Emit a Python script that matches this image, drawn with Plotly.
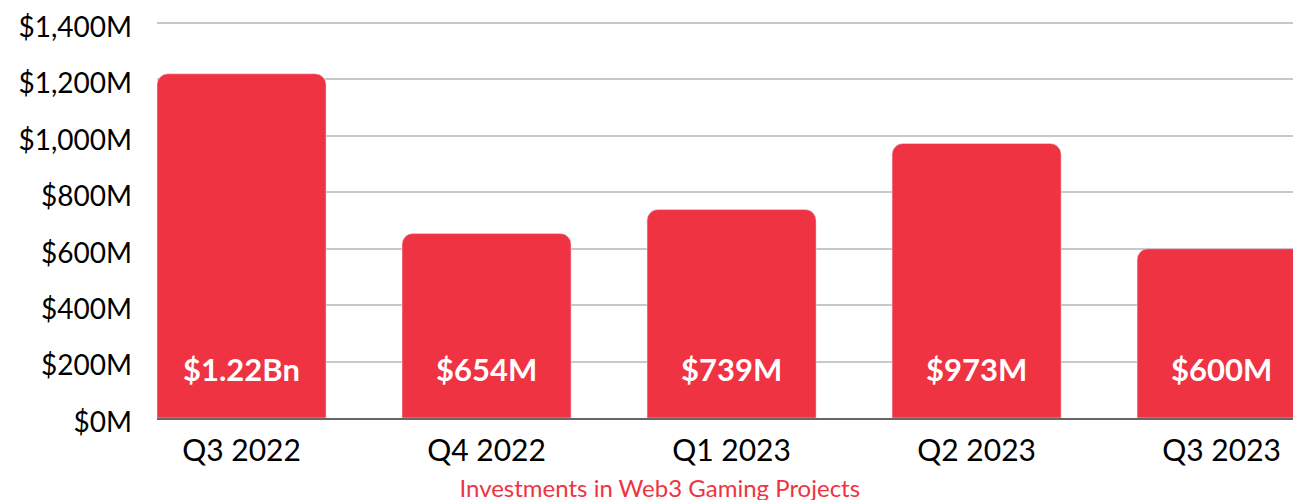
import plotly.graph_objects as go

quarters = ["Q3 2022", "Q4 2022", "Q1 2023", "Q2 2023", "Q3 2023"]
investment_m = [1220, 654, 739, 973, 600]
bar_labels = ["$1.22Bn", "$654M", "$739M", "$973M", "$600M"]
y_ticks = [0, 200, 400, 600, 800, 1000, 1200, 1400]
y_tick_text = ["$0M", "$200M", "$400M", "$600M", "$800M", "$1,000M", "$1,200M", "$1,400M"]

RED = "#EF3342"
FONT = "Lato, Inter, sans-serif"

fig = go.Figure(go.Bar(x=quarters, y=investment_m, marker_color=RED, width=0.69,
                       hoverinfo="skip"))

# value labels near bar base
for q, lab in zip(quarters, bar_labels):
    fig.add_annotation(x=q, y=0, yshift=49, text="<b>" + lab + "</b>", showarrow=False,
                       font=dict(color="white", size=31, family=FONT))

# page body has an 8px margin, so margins are offset by it
fig.update_layout(
    width=1301, height=500,
    margin=dict(l=149, r=8, t=12, b=90, autoexpand=False),
    plot_bgcolor="white", paper_bgcolor="white",
    barcornerradius=11,
    showlegend=False,
    font=dict(family=FONT, color="black"),
    title=dict(text="Investments in Web3 Gaming Projects", x=0.501, xanchor="center",
               y=0.038, yanchor="middle", yref="container",
               font=dict(color=RED, size=24, family=FONT)),
)
fig.update_xaxes(range=[-0.345, 4.324], showline=True, linecolor="#666666", linewidth=2,
                 tickfont=dict(size=30), ticks="", showgrid=False, automargin=False,
                 ticklabelstandoff=5)
fig.update_yaxes(range=[0, 1410.6], tickvals=y_ticks, ticktext=y_tick_text, showgrid=True,
                 gridcolor="#C8C8C8", gridwidth=2, tickfont=dict(size=28), zeroline=False,
                 ticklabelstandoff=24, ticklabelshift=4, automargin=False,
                 ticklabeloverflow="allow")

fig.write_html("out.html")
